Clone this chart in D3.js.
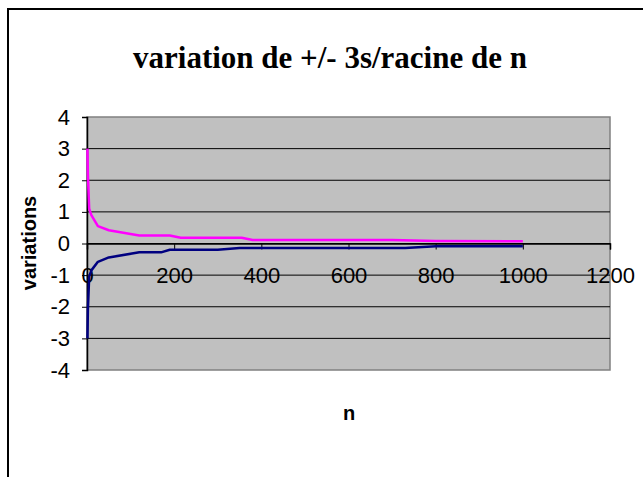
<!DOCTYPE html>
<html><head><meta charset="utf-8">
<script src="https://cdn.jsdelivr.net/npm/d3@7"></script>
<style>html,body{margin:0;padding:0;background:#fff;overflow:hidden}</style>
</head><body>
<svg id="c" width="643" height="477"></svg>
<script>
const title = "variation de +/- 3s/racine de n";
const yTitle = "variations";
const xTitle = "n";
const xTicks = [0, 200, 400, 600, 800, 1000, 1200];
const yTicks = [-4, -3, -2, -1, 0, 1, 2, 3, 4];
const plusN   = [1, 2, 5, 10, 25, 50, 120, 190, 215, 355, 380, 700, 800, 1000];
const plusV   = [3, 2.2, 1.1, 0.9, 0.55, 0.42, 0.25, 0.25, 0.18, 0.18, 0.11, 0.11, 0.08, 0.07];
const minusN  = [1, 2, 5, 10, 25, 50, 120, 170, 190, 300, 350, 730, 800, 1000];
const minusV  = [-3, -2.1, -1.05, -0.85, -0.58, -0.44, -0.28, -0.28, -0.2, -0.2, -0.14, -0.14, -0.09, -0.09];

const svg = d3.select("#c");
const L = 87, R = 610, T = 117, B = 370;
const x = d3.scaleLinear().domain([0, 1200]).range([L, R]);
const y = d3.scaleLinear().domain([-4, 4]).range([B, T]);
const sans = "Arial, 'Liberation Sans', sans-serif";

// outer border
svg.append("rect").attr("x", 8).attr("y", 9).attr("width", 700).attr("height", 600)
  .attr("fill", "#fff").attr("stroke", "#000").attr("stroke-width", 2);

// plot area
svg.append("rect").attr("x", L).attr("y", T).attr("width", R - L).attr("height", B - T)
  .attr("fill", "#C0C0C0").attr("stroke", "#808080").attr("stroke-width", 1.5);

// gridlines
svg.append("g").selectAll("line").data(yTicks.filter(d => d !== -4 && d !== 4)).join("line")
  .attr("x1", L).attr("x2", R).attr("y1", d => y(d)).attr("y2", d => y(d))
  .attr("stroke", "#000").attr("stroke-width", 1);

// y axis
const yAxis = d3.axisLeft(y).tickValues(yTicks).tickSize(5).tickPadding(12).tickFormat(d => String(d));
const gy = svg.append("g").attr("transform", `translate(${L},0)`).call(yAxis);
gy.select(".domain").attr("stroke", "#000").attr("stroke-width", 1.5);
gy.selectAll("text").attr("font-family", sans).attr("font-size", 22).attr("fill", "#000");

// x axis at y=0
const xAxis = d3.axisBottom(x).tickValues(xTicks).tickSize(6).tickPadding(18).tickFormat(d => String(d));
const gx = svg.append("g").attr("transform", `translate(0,${y(0)})`).call(xAxis);
gx.select(".domain").attr("stroke", "#000").attr("stroke-width", 1.5);
gx.selectAll("text").attr("font-family", sans).attr("font-size", 22).attr("fill", "#000");

// lines
const line = d3.line().x(d => x(d[0])).y(d => y(d[1]));
svg.append("path").datum(plusN.map((n, i) => [n, plusV[i]])).attr("d", line)
  .attr("fill", "none").attr("stroke", "#FF00FF").attr("stroke-width", 2.5).attr("stroke-linejoin", "round");
svg.append("path").datum(minusN.map((n, i) => [n, minusV[i]])).attr("d", line)
  .attr("fill", "none").attr("stroke", "#000080").attr("stroke-width", 2.5).attr("stroke-linejoin", "round");

// titles
svg.append("text").attr("x", 330).attr("y", 68).attr("text-anchor", "middle")
  .attr("font-family", "'Times New Roman', 'Liberation Serif', serif").attr("font-weight", "bold")
  .attr("font-size", 31).text(title);
svg.append("text").attr("transform", `translate(36,243) rotate(-90)`).attr("text-anchor", "middle")
  .attr("font-family", sans).attr("font-weight", "bold")
  .attr("font-size", 20).text(yTitle);
svg.append("text").attr("x", 349).attr("y", 420).attr("text-anchor", "middle")
  .attr("font-family", sans).attr("font-weight", "bold")
  .attr("font-size", 20).text(xTitle);
</script>
</body></html>
